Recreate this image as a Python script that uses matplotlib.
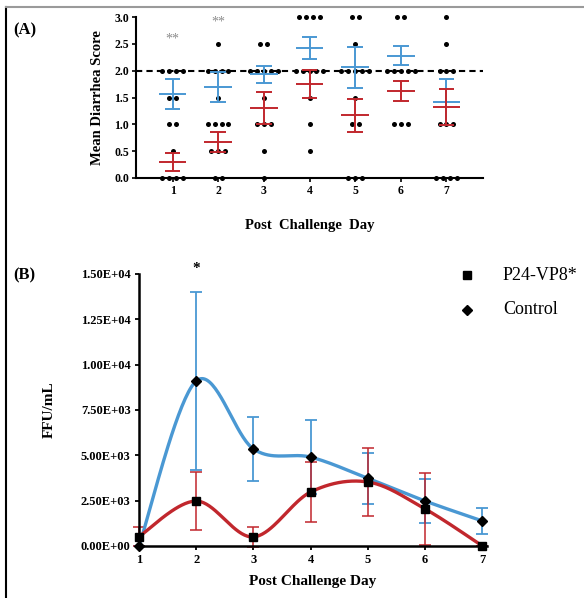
import numpy as np
import matplotlib
matplotlib.use("Agg")
import matplotlib.pyplot as plt
from matplotlib.lines import Line2D

plt.rcParams['font.family'] = ['Liberation Serif', 'DejaVu Serif']

# -----------------------------
# Panel A data: individual scores + mean/SEM
# -----------------------------
days = [1, 2, 3, 4, 5, 6, 7]
score_levels = [3.0, 2.5, 2.0, 1.5, 1.0, 0.5, 0.0]
# number of animals at each score level (rows = days, cols = score_levels)
dot_counts = [
    [0, 0, 4, 2, 2, 1, 4],
    [0, 1, 4, 1, 4, 3, 2],
    [0, 2, 5, 1, 3, 1, 1],
    [4, 0, 5, 1, 1, 1, 0],
    [2, 1, 5, 1, 2, 0, 3],
    [2, 0, 5, 0, 3, 0, 0],
    [1, 1, 3, 0, 3, 0, 4],
]
ctrl_score_mean = [1.56, 1.70, 1.93, 2.42, 2.06, 2.28, 1.42]
ctrl_score_sem = [0.28, 0.28, 0.16, 0.21, 0.38, 0.18, 0.43]
vacc_score_mean = [0.30, 0.67, 1.30, 1.75, 1.17, 1.62, 1.32]
vacc_score_sem = [0.17, 0.19, 0.30, 0.26, 0.31, 0.19, 0.33]
star_days = [1, 2]
star_heights = [2.58, 2.90]

# -----------------------------
# Panel B data: FFU/mL
# -----------------------------
ctrl_ffu = [0, 9100, 5350, 4900, 3730, 2480, 1380]
ctrl_ffu_err = [0, 4900, 1760, 2050, 1420, 1200, 700]
vacc_ffu = [520, 2480, 500, 2980, 3530, 2040, 0]
vacc_ffu_err = [530, 1600, 550, 1650, 1900, 2000, 0]
b_ticks = [0, 2500, 5000, 7500, 10000, 12500, 15000]

blue = '#4a98d3'
red = '#c1272d'


def smooth_curve(xs, ys, n=40):
    # Excel-like smoothed line (Catmull-Rom Bezier)
    pts = np.column_stack([xs, ys]).astype(float)
    pad = np.vstack([pts[0], pts, pts[-1]])
    t = np.linspace(0, 1, n)[:, None]
    segs = []
    for i in range(len(pts) - 1):
        p0, p1, p2, p3 = pad[i], pad[i + 1], pad[i + 2], pad[i + 3]
        b1 = p1 + (p2 - p0) / 6
        b2 = p2 - (p3 - p1) / 6
        segs.append((1 - t)**3 * p1 + 3 * (1 - t)**2 * t * b1
                    + 3 * (1 - t) * t**2 * b2 + t**3 * p2)
    return np.vstack(segs)


fig = plt.figure(figsize=(5.84, 5.98), dpi=100)

# frame
fig.add_artist(Line2D([6/584, 6/584], [0, 1 - 7/598], color='black', lw=1.5,
                      transform=fig.transFigure))
fig.add_artist(Line2D([6/584, 1], [1 - 7/598, 1 - 7/598], color='#9a9a9a', lw=1.5,
                      transform=fig.transFigure))

# -----------------------------
# Panel A
# -----------------------------
axA = fig.add_axes([136/584, 1 - 178/598, 347/584, 161/598])
spacing = 0.15
for d, counts in zip(days, dot_counts):
    for lvl, n in zip(score_levels, counts):
        if n == 0:
            continue
        xs = d + (np.arange(n) - (n - 1) / 2) * spacing
        axA.scatter(xs, [lvl] * n, s=13, color='black', zorder=3, clip_on=False,
                    linewidths=0)

axA.axhline(2.0, color='black', lw=1.5, ls=(0, (3, 2)), zorder=4)

for mean, sem, col in [(ctrl_score_mean, ctrl_score_sem, blue),
                       (vacc_score_mean, vacc_score_sem, red)]:
    for d, m, s in zip(days, mean, sem):
        axA.hlines(m, d - 0.3, d + 0.3, color=col, lw=1.4, zorder=5)
        axA.vlines(d, m - s, m + s, color=col, lw=1.4, zorder=5)
        axA.hlines([m - s, m + s], d - 0.17, d + 0.17, color=col, lw=1.4, zorder=5)

for d, h in zip(star_days, star_heights):
    axA.text(d, h, '**', ha='center', va='center', fontsize=10, color='#8c8c8c')

axA.set_xlim(0.2, 7.8)
axA.set_ylim(0, 3.0)
axA.set_xticks(days)
axA.set_yticks([0, 0.5, 1.0, 1.5, 2.0, 2.5, 3.0])
axA.set_yticklabels([f'{v:.1f}' for v in axA.get_yticks()])
for sp in ['top', 'right']:
    axA.spines[sp].set_visible(False)
for sp in ['left', 'bottom']:
    axA.spines[sp].set_linewidth(1.5)
axA.tick_params(axis='both', labelsize=8.5, width=1.2, length=3, pad=2)
for lab in axA.get_xticklabels() + axA.get_yticklabels():
    lab.set_fontweight('bold')
axA.set_ylabel('Mean Diarrhea Score', fontsize=10.5, fontweight='bold', labelpad=7)
axA.set_xlabel('Post  Challenge  Day', fontsize=10.5, fontweight='bold', labelpad=16)
fig.text(13/584, 1 - 30/598, '(A)', fontsize=12, fontweight='bold', va='center')

# -----------------------------
# Panel B
# -----------------------------
axB = fig.add_axes([139/584, 1 - 546/598, 348/584, 272/598])
axB.errorbar(days, ctrl_ffu, yerr=ctrl_ffu_err, fmt='none', ecolor=blue,
             elinewidth=1.3, capsize=4.3, capthick=1.3, zorder=2, clip_on=False)
axB.errorbar(days, vacc_ffu, yerr=vacc_ffu_err, fmt='none', ecolor=red,
             elinewidth=1.3, capsize=4.3, capthick=1.3, zorder=2, alpha=0.85,
             clip_on=False)
cb = smooth_curve(days, ctrl_ffu)
cr = smooth_curve(days, vacc_ffu)
axB.plot(cb[:, 0], cb[:, 1], color=blue, lw=2.4, zorder=3, clip_on=False)
axB.plot(cr[:, 0], cr[:, 1], color=red, lw=2.4, zorder=3, clip_on=False)
axB.plot(days, vacc_ffu, ls='none', marker='s', ms=5.5, color='black', zorder=4,
         clip_on=False)
axB.plot(days, ctrl_ffu, ls='none', marker='D', ms=5, color='black', zorder=5,
         clip_on=False)
axB.text(2, 15300, '*', ha='center', va='center', fontsize=11, fontweight='bold')

axB.set_xlim(1, 7.08)
axB.set_ylim(0, 15000)
axB.set_xticks(days)
axB.set_yticks(b_ticks)
axB.set_yticklabels([f'{v:.2E}' for v in b_ticks])
for sp in ['top', 'right']:
    axB.spines[sp].set_visible(False)
for sp in ['left', 'bottom']:
    axB.spines[sp].set_linewidth(1.8)
axB.tick_params(axis='both', labelsize=9, width=1.3, length=3, pad=3)
for lab in axB.get_xticklabels() + axB.get_yticklabels():
    lab.set_fontweight('bold')
axB.set_ylabel('FFU/mL', fontsize=11, fontweight='bold', labelpad=18)
axB.set_xlabel('Post Challenge Day', fontsize=11, fontweight='bold', labelpad=6)
fig.text(13/584, 1 - 275/598, '(B)', fontsize=12, fontweight='bold', va='center')

# legend
fig.add_artist(Line2D([467/584], [1 - 275/598], marker='s', ms=5.5, color='black',
                      ls='none', transform=fig.transFigure))
fig.add_artist(Line2D([467/584], [1 - 310/598], marker='D', ms=5.5, color='black',
                      ls='none', transform=fig.transFigure))
fig.text(503/584, 1 - 275/598, 'P24-VP8*', fontsize=13, va='center')
fig.text(503/584, 1 - 310/598, 'Control', fontsize=13, va='center')

fig.savefig('out.png', dpi=100)
